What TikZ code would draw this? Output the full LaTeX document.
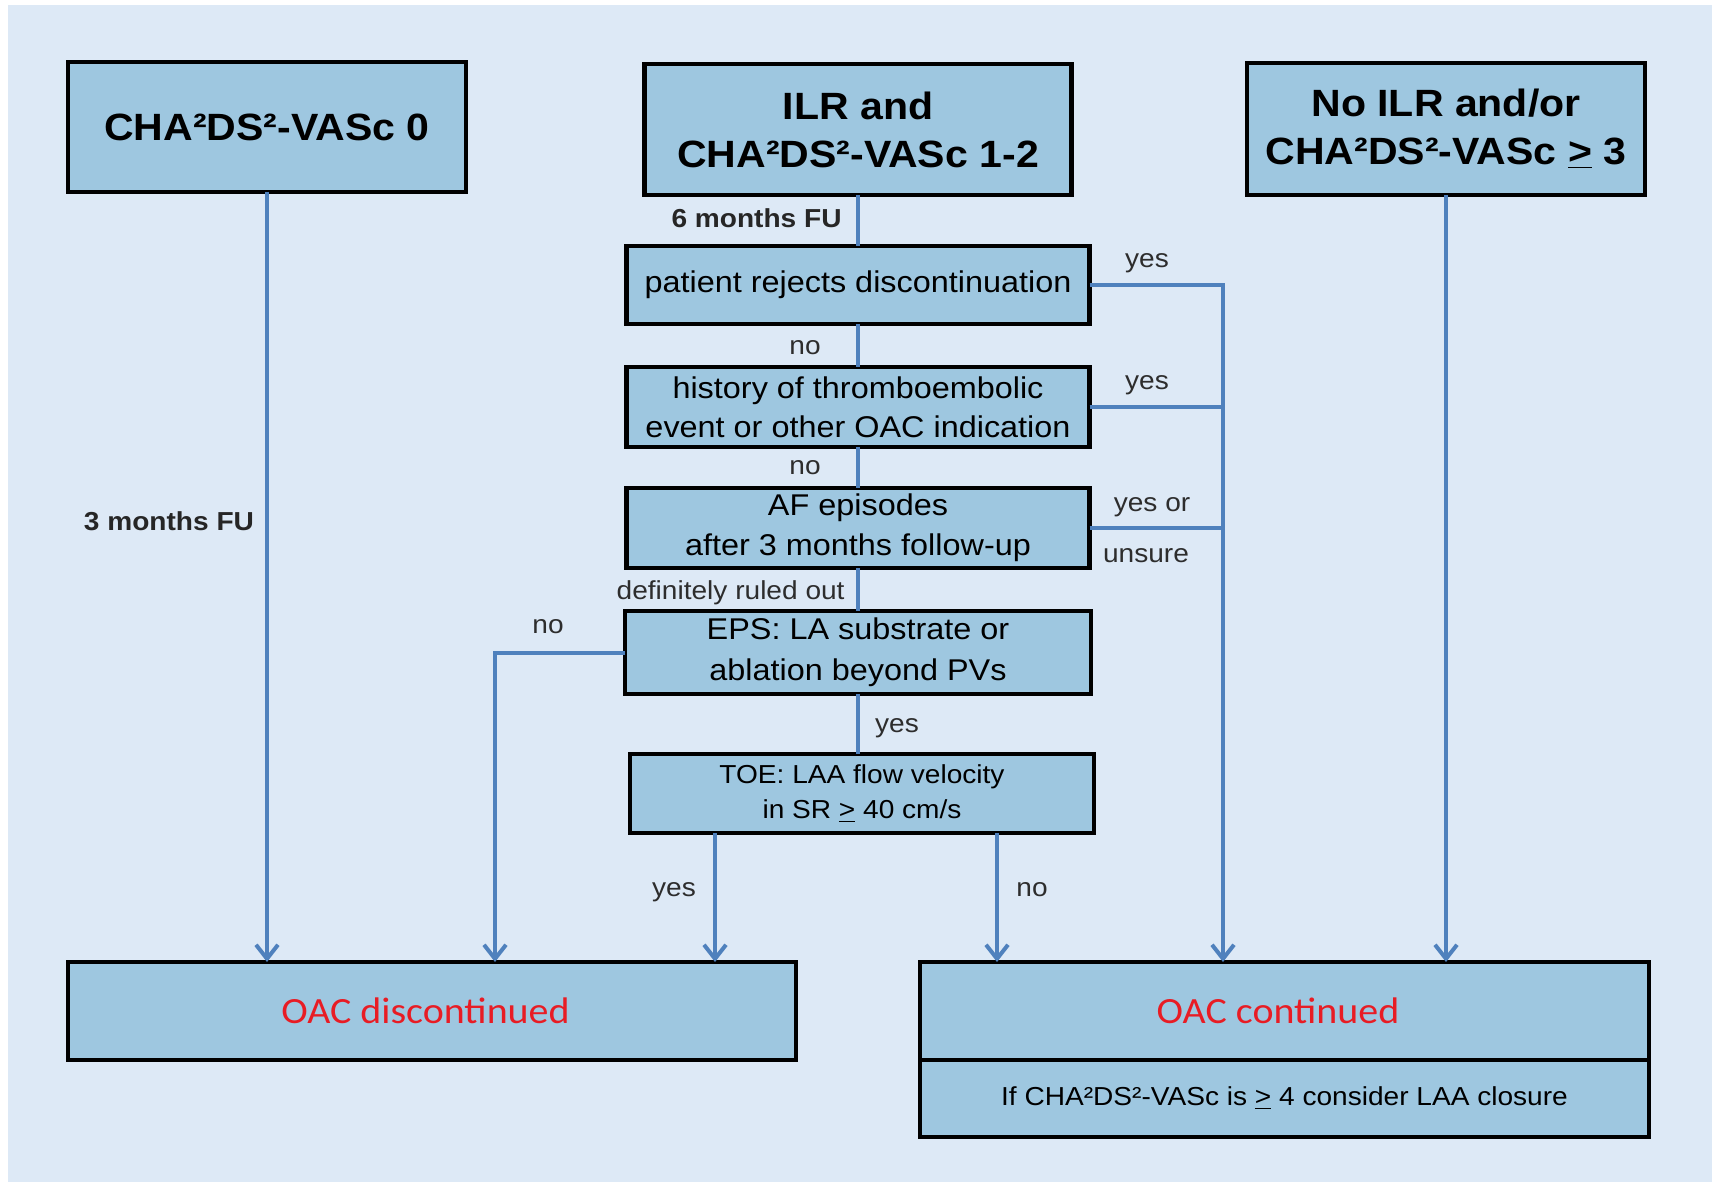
\documentclass[tikz,border=0pt]{standalone}
\usepackage{fontspec}
\setmainfont[FakeStretch=1.08]{Liberation Sans}
\newfontfamily\calfont[FakeStretch=1.08]{Carlito}
\usetikzlibrary{arrows.meta,calc}
\definecolor{bgblue}{RGB}{221,233,246}
\definecolor{boxblue}{RGB}{158,199,224}
\definecolor{linkblue}{RGB}{79,129,189}
\definecolor{okred}{RGB}{232,28,36}
\definecolor{labelgray}{RGB}{45,45,45}

\begin{document}
\begin{tikzpicture}[x=0.5pt,y=-0.5pt,
  box/.style={draw=black, line width=2.2pt, fill=boxblue, inner sep=0pt, outer sep=0pt, align=center, text=black},
  headbox/.style={box, font=\fontsize{19}{24}\selectfont\bfseries},
  askbox/.style={box, font=\fontsize{15}{19.5}\selectfont},
  smallbox/.style={box, font=\fontsize{13}{17.5}\selectfont},
  endbox/.style={box, font=\calfont\fontsize{18.5}{22}\selectfont, text=okred},
  link/.style={draw=linkblue, line width=2pt},
  arrow/.style={link, -{Straight Barb[length=7pt,width=11pt,line width=2pt]}},
  lbl/.style={font=\fontsize{13}{16}\selectfont, text=labelgray, inner sep=0pt},
  fu/.style={font=\fontsize{13}{16}\selectfont\bfseries, text=black!85, inner sep=0pt},
]
% page and panel
\fill[white] (0,0) rectangle (1712,1182);
\fill[bgblue] (8,5) rectangle (1712,1182);

% entry groups
\node[headbox, minimum width=199pt, minimum height=65pt] (A) at (267,127) {CHA²DS²-VASc 0};
\node[headbox, minimum width=213.5pt, minimum height=65.5pt] (B) at (858,129.5) {ILR and\\CHA²DS²-VASc 1-2};
\node[headbox, minimum width=199pt, minimum height=66pt] (C) at (1446,129) {No ILR and/or\\CHA²DS²-VASc \underline{>} 3};

% decision chain
\node[askbox, minimum width=231.5pt, minimum height=39pt] (D) at (858,285) {patient rejects discontinuation};
\node[askbox, minimum width=231.5pt, minimum height=40pt] (E) at (858,407) {history of thromboembolic\\event or other OAC indication};
\node[askbox, minimum width=231.5pt, minimum height=40pt, font=\fontsize{15}{20}\selectfont] (F) at (858,528) {AF episodes\\after 3 months follow-up};
\node[askbox, minimum width=233pt, minimum height=41.5pt, font=\fontsize{15}{20.5}\selectfont] (G) at (858,652.5) {EPS: LA substrate or\\ablation beyond PVs};
\node[smallbox, minimum width=232pt, minimum height=39.5pt] (H) at (862,793.5) {TOE: LAA flow velocity\\in SR \underline{>} 40 cm/s};

% outcomes
\node[endbox, minimum width=364pt, minimum height=49pt] (I) at (432,1011) {OAC discontinued\hspace*{6.5pt}};
\node[endbox, minimum width=364.5pt, minimum height=49pt] (J) at (1284.5,1011) {OAC continued\hspace*{6.5pt}};
\node[smallbox, minimum width=364.5pt, minimum height=38.5pt, anchor=north] (J2) at (J.south) {If CHA²DS²-VASc is \underline{>} 4 consider LAA closure};

% routing points
\coordinate (bus) at (1223,285);
\coordinate (epsno) at (495,652.5);
\coordinate (toeyes) at (715,0);
\coordinate (toeno) at (997,0);

% left and right straight paths
\draw[arrow] (A.south) -- (A.south |- I.north);
\draw[arrow] (C.south) -- (C.south |- J.north);

% centre column
\draw[link] (B.south) -- (B.south |- D.north);
\draw[link] (D.south) -- (D.south |- E.north);
\draw[link] (E.south) -- (E.south |- F.north);
\draw[link] (F.south) -- (F.south |- G.north);
\draw[link] (G.south) -- (G.south |- H.north);

% "yes" branches collected on the right
\draw[arrow] (D.east) -- (bus) -- (bus |- J.north);
\draw[link] (E.east) -- (E.east -| bus);
\draw[link] (F.east) -- (F.east -| bus);

% EPS negative branch
\draw[arrow] (G.west) -- (epsno) -- (epsno |- I.north);

% TOE outcomes
\draw[arrow] (H.south -| toeyes) -- (I.north -| toeyes);
\draw[arrow] (H.south -| toeno) -- (J.north -| toeno);

% labels
\node[fu, anchor=east] (l6m) at (842,218) {6 months FU};
\node[fu] (l3m) at (169,521) {3 months FU};
\node[lbl] (lno1) at (805,348) {no};
\node[lbl] (lno2) at (805,468) {no};
\node[lbl, anchor=east] (lrule) at (845,593) {definitely ruled out};
\node[lbl] (lno3) at (548,627) {no};
\node[lbl] (lyes4) at (897,728) {yes};
\node[lbl] (lyes5) at (674,892) {yes};
\node[lbl] (lno4) at (1032,890) {no};
\node[lbl] (lyes1) at (1147,263) {yes};
\node[lbl] (lyes2) at (1147,385) {yes};
\node[lbl] (lyes3) at (1152,507) {yes or};
\node[lbl] (lunsure) at (1146,556) {unsure};
\end{tikzpicture}
\end{document}
